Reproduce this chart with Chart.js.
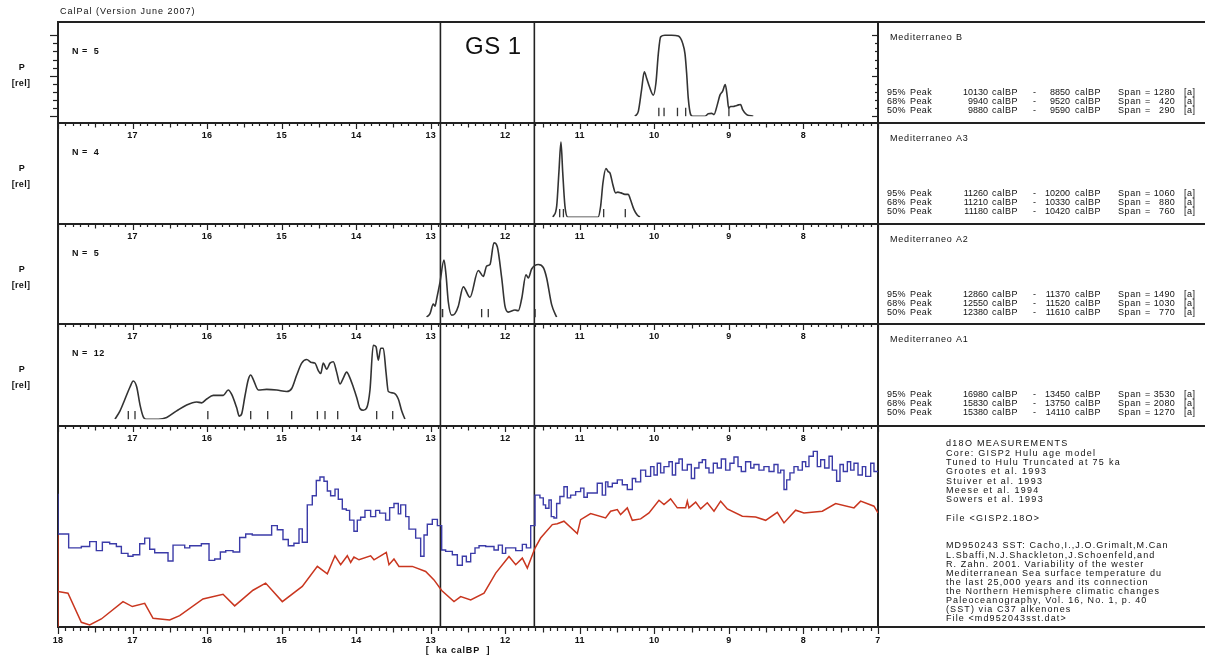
<!DOCTYPE html>
<html>
<head>
<meta charset="utf-8">
<script src="https://cdn.jsdelivr.net/npm/chart.js@4.4.1/dist/chart.umd.min.js"></script>
<style>
  body { margin: 0; background: #fff; width: 1205px; height: 659px; overflow: hidden; position: relative; }
  canvas { position: absolute; left: 0; }
</style>
</head>
<body>
<script>
// ---- data (ages in ka calBP) ----
const xTickLabels = [17, 16, 15, 14, 13, 12, 11, 10, 9, 8];
const xAxisLabels = [18, 17, 16, 15, 14, 13, 12, 11, 10, 9, 8, 7];
const gsBounds = [12.87, 11.61];
const d18oTicks = [-34, -36, -38, -40, -42, -44, -46];
const sstTicks = [23, 19, 15];
const sstMinorTicks = [21, 17, 13, 11];

// Mediterraneo B
const ageB = [10.26, 10.215, 10.171, 10.135, 10.104, 10.068, 10.014, 9.979, 9.947, 9.916, 9.858, 9.768, 9.679, 9.62, 9.589, 9.567, 9.545, 9.513, 9.487,
  9.321, 9.277, 9.232, 9.201, 9.156, 9.12, 9.084, 9.049, 9.022, 9.004, 8.977, 8.942, 8.906, 8.87, 8.843, 8.816, 8.762, 8.673];
const probB = [0, 0.06, 0.33, 0.55, 0.47, 0.37, 0.26, 0.41, 0.77, 0.98, 1.0, 1.0, 0.99, 0.9, 0.77, 0.53, 0.22, 0.02, 0,
  0, 0.03, 0.035, 0.02, 0.14, 0.26, 0.31, 0.39, 0.24, 0.1, 0.12, 0.12, 0.13, 0.14, 0.145, 0.08, 0.02, 0];
const datesB = [9.94, 9.87, 9.69, 9.58, 9.0];

// Mediterraneo A3
const ageA3 = [11.36, 11.31, 11.28, 11.253, 11.23, 11.2, 11.16, 10.756, 10.72, 10.69, 10.649, 10.62, 10.595, 10.555, 10.52, 10.49, 10.448, 10.394, 10.35, 10.327, 10.273, 10.23, 10.193];
const probA3 = [0, 0.15, 0.6, 0.99, 0.6, 0.15, 0, 0, 0.15, 0.45, 0.64, 0.6, 0.58, 0.42, 0.32, 0.33, 0.32, 0.3, 0.3, 0.25, 0.1, 0.03, 0];
const datesA3 = [11.27, 11.22, 10.68, 10.39];

// Mediterraneo A2
const ageA2 = [13.054, 13.01, 12.966, 12.943, 12.92, 12.876, 12.822, 12.795, 12.764, 12.719, 12.675, 12.63, 12.563, 12.474, 12.362, 12.295, 12.25,
  12.205, 12.152, 12.107, 12.048, 12.004, 11.959, 11.87, 11.825, 11.78, 11.722, 11.691, 11.646, 11.557, 11.49, 11.445, 11.378, 11.311];
const probA2 = [0, 0.047, 0.172, 0.145, 0.243, 0.458, 0.753, 0.56, 0.2, 0.027, 0.047, 0.145, 0.4, 0.262, 0.615, 0.537, 0.674,
  0.694, 0.98, 0.929, 0.517, 0.145, 0.067, 0.094, 0.086, 0.243, 0.557, 0.517, 0.635, 0.694, 0.655, 0.517, 0.165, 0];
const datesA2 = [12.867, 12.84, 12.317, 12.228, 11.6];

// Mediterraneo A1
const ageA1 = [17.235, 17.168, 17.101, 17.034, 16.99, 16.944, 16.9, 16.856, 16.82, 16.654, 16.542, 16.408, 16.274, 16.14, 16.073, 16.005,
  15.917, 15.783, 15.716, 15.67, 15.603, 15.568, 15.536, 15.492, 15.447, 15.415, 15.38, 15.313, 15.201, 15.066, 14.932, 14.865,
  14.798, 14.731, 14.664, 14.597, 14.553, 14.508, 14.476, 14.441, 14.396, 14.351, 14.307, 14.262, 14.217, 14.173, 14.128, 14.083,
  14.039, 13.993, 13.949, 13.905, 13.859, 13.815, 13.771, 13.734, 13.703, 13.671, 13.636, 13.6, 13.569, 13.502, 13.435, 13.39, 13.346];
const probA1 = [0, 0.11, 0.266, 0.423, 0.502, 0.423, 0.188, 0.031, 0, 0, 0.023, 0.11, 0.188, 0.227, 0.215, 0.266,
  0.313, 0.313, 0.384, 0.325, 0.149, 0.039, 0.07, 0.305, 0.521, 0.58, 0.521, 0.384, 0.392, 0.384, 0.364, 0.403,
  0.58, 0.737, 0.784, 0.745, 0.737, 0.639, 0.6, 0.737, 0.658, 0.737, 0.756, 0.619, 0.462, 0.54, 0.619, 0.54,
  0.423, 0.286, 0.141, 0.117, 0.149, 0.384, 0.972, 0.952, 0.776, 0.933, 0.933, 0.619, 0.364, 0.345, 0.266, 0.11, 0];
const datesA1 = [17.057, 16.967, 15.99, 15.415, 15.187, 14.865, 14.52, 14.418, 14.248, 13.725, 13.51];

const peaksB = [['95%', 10130, 8850, 1280], ['68%', 9940, 9520, 420], ['50%', 9880, 9590, 290]];
const peaksA3 = [['95%', 11260, 10200, 1060], ['68%', 11210, 10330, 880], ['50%', 11180, 10420, 760]];
const peaksA2 = [['95%', 12860, 11370, 1490], ['68%', 12550, 11520, 1030], ['50%', 12380, 11610, 770]];
const peaksA1 = [['95%', 16980, 13450, 3530], ['68%', 15830, 13750, 2080], ['50%', 15380, 14110, 1270]];

// GISP2 d18O (step start ages / values)
const d18oAge = [18.0, 18.0, 17.857, 17.687, 17.575, 17.486, 17.405, 17.307, 17.217, 17.15, 17.061, 16.994, 16.904, 16.837, 16.77, 16.703,
  16.524, 16.457, 16.3, 16.233, 16.077, 15.974, 15.898, 15.822, 15.75, 15.652, 15.563, 15.482,
  15.394, 15.134, 15.058, 14.982, 14.911, 14.835, 14.767, 14.723, 14.656, 14.589, 14.535, 14.486, 14.432, 14.387, 14.343, 14.284,
  14.24, 14.186, 14.132, 14.088, 14.03, 13.985, 13.94, 13.882, 13.806, 13.739, 13.685, 13.605, 13.551, 13.493, 13.435, 13.403,
  13.336, 13.292, 13.202, 13.135, 13.09, 13.046, 12.979, 12.911, 12.853, 12.8, 12.71, 12.643, 12.576, 12.522, 12.464, 12.406,
  12.352, 12.263, 12.151, 12.093, 12.039, 11.995, 11.86, 11.771, 11.717, 11.659, 11.601,
  11.535, 11.49, 11.459, 11.414, 11.383, 11.347, 11.311, 11.267, 11.213, 11.168, 11.123, 11.056, 10.989, 10.945, 10.9, 10.766,
  10.699, 10.654, 10.623, 10.564, 10.497, 10.43, 10.363, 10.296, 10.251, 10.184, 10.117, 10.05, 10.005, 9.961, 9.916, 9.871,
  9.804, 9.759, 9.715, 9.67, 9.625, 9.558, 9.504, 9.46, 9.402, 9.357, 9.312, 9.267, 9.209, 9.156, 9.102, 9.044, 8.986, 8.932,
  8.878, 8.834, 8.776, 8.708, 8.664, 8.597, 8.53, 8.462, 8.395, 8.342, 8.306, 8.261, 8.225, 8.181, 8.127, 8.073, 8.015, 7.97,
  7.926, 7.868, 7.814, 7.769, 7.716, 7.657, 7.613, 7.555, 7.51, 7.465, 7.411, 7.367, 7.322, 7.268, 7.21, 7.165, 7.098, 7.054, 7.0];
const d18oValue = [-36.4, -39.3, -40.3, -40.2, -39.85, -40.5, -39.9, -40.0, -40.2, -40.7, -40.9, -40.8, -40.0, -39.6, -40.4, -40.65,
  -41.25, -40.1, -40.3, -40.15, -40.0, -41.2, -41.1, -40.6, -40.5, -40.6, -39.55, -39.3,
  -39.37, -38.7, -39.0, -39.7, -40.15, -39.97, -38.93, -39.9, -37.2, -36.55, -35.45, -35.2, -35.5, -36.2, -36.55, -36.07,
  -36.8, -37.5, -37.6, -38.3, -39.1, -38.3, -38.1, -37.6, -38.05, -37.6, -37.8, -38.3, -37.4, -37.1, -37.85, -37.2,
  -38.05, -38.95, -39.6, -40.9, -39.37, -38.6, -38.25, -38.7, -40.45, -40.55, -40.8, -41.55, -40.9, -41.3, -40.7, -40.3,
  -40.15, -40.2, -40.45, -40.1, -40.7, -40.3, -40.5, -40.05, -40.3, -38.7, -36.5,
  -36.7, -37.2, -37.45, -36.85, -38.05, -38.15, -37.1, -36.6, -35.9, -36.7, -36.5, -36.25, -36.0, -36.65, -36.35, -35.65,
  -36.5, -35.55, -35.9, -35.65, -35.4, -35.75, -36.1, -35.3, -35.55, -34.7, -35.15, -34.45, -35.05, -34.2, -34.9, -34.45,
  -34.1, -35.05, -34.2, -33.9, -34.7, -34.3, -35.3, -34.55, -34.15, -33.95, -34.55, -34.9, -34.2, -34.55, -33.9, -34.7, -34.2, -33.75,
  -34.45, -34.8, -34.1, -34.55, -34.3, -34.7, -34.45, -34.8, -34.3, -34.9, -34.7, -36.1, -35.4, -34.9, -34.45, -34.7, -34.1, -34.45,
  -33.7, -33.35, -34.45, -33.95, -34.55, -33.7, -34.7, -35.5, -34.3, -34.8, -34.1, -34.7, -34.2, -35.05, -34.45, -35.15, -34.2, -34.8, -34.8];

// MD95-2043 SST (deg C)
const sstAge = [18.0, 18.0, 18.0, 17.866, 17.687, 17.575, 17.419, 17.128, 17.003, 16.837, 16.725, 16.502, 16.368, 16.055, 15.786, 15.63,
  15.384, 15.215, 14.991, 14.723, 14.521, 14.387, 14.284, 14.208, 14.119, 14.074, 14.03, 13.962, 13.806, 13.761, 13.672, 13.596,
  13.56, 13.493, 13.426, 13.247, 13.068, 12.956, 12.853, 12.688, 12.598, 12.464, 12.285, 12.128, 11.95, 11.86, 11.771, 11.704,
  11.601, 11.526, 11.369, 11.302, 11.213, 11.034, 10.989, 10.855, 10.654, 10.587, 10.497, 10.453, 10.363, 10.296, 10.184, 10.072,
  9.938, 9.871, 9.782, 9.692, 9.581, 9.558, 9.536, 9.446, 9.379, 9.29, 9.2, 9.111, 9.021, 8.82, 8.641, 8.507, 8.351, 8.261,
  8.105, 7.993, 7.747, 7.568, 7.322, 7.233, 7.054, 7.0];
const sstValue = [17.1, 10.0, 12.74, 12.61, 10.36, 10.16, 10.62, 11.96, 11.58, 11.83, 10.67, 10.54, 10.88, 12.17, 12.53, 11.63,
  12.84, 13.39, 11.96, 13.13, 14.68, 14.11, 15.5, 14.81, 15.5, 14.99, 15.4, 15.19, 15.5, 15.19, 15.5, 15.76,
  14.81, 15.25, 14.68, 14.68, 14.29, 13.64, 12.82, 11.96, 12.35, 12.09, 12.61, 14.16, 15.45, 14.81, 15.32, 14.55,
  16.1, 16.87, 17.91, 17.98, 18.17, 17.21, 18.29, 18.76, 18.42, 18.94, 19.07, 18.68, 19.2, 18.24, 18.35, 18.81,
  19.79, 19.46, 19.9, 19.2, 19.2, 19.72, 19.2, 19.64, 19.12, 19.59, 18.94, 19.72, 19.12, 18.55, 18.5, 18.24, 18.86, 18.04,
  19.02, 18.81, 18.94, 19.53, 19.2, 19.72, 19.33, 18.81];

const gispText = ['d18O MEASUREMENTS', 'Core: GISP2 Hulu age model', 'Tuned to Hulu Truncated at 75 ka',
  'Grootes et al. 1993', 'Stuiver et al. 1993', 'Meese et al. 1994', 'Sowers et al. 1993', '', 'File <GISP2.18O>'];
const sstText = ['MD950243 SST: Cacho,I.,J.O.Grimalt,M.Can', 'L.Sbaffi,N.J.Shackleton,J.Schoenfeld,and',
  'R. Zahn. 2001. Variability of the wester', 'Mediterranean Sea surface temperature du',
  'the last 25,000 years and its connection', 'the Northern Hemisphere climatic changes',
  'Paleoceanography, Vol. 16, No. 1, p. 40', '(SST) via C37 alkenones', 'File <md952043sst.dat>'];

// ---- layout ----
const W = 1205, X0 = 58, X1 = 878;
const PXP = 85; // pixels per unit P
const FONT = "'Liberation Sans', Arial, sans-serif";
const INK = '#222';
const BLUE = '#3b3ba8', RED = '#c9361f';

const pts = (xs, ys) => xs.map((v, k) => ({ x: v, y: ys[k] }));

function txt(ctx, s, x, y, size, opt = {}) {
  ctx.font = (opt.bold ? 'bold ' : '') + size + 'px ' + FONT;
  ctx.fillStyle = opt.color || '#111';
  ctx.textAlign = opt.align || 'left';
  ctx.textBaseline = 'middle';
  if ('letterSpacing' in ctx) ctx.letterSpacing = (opt.ls == null ? 0.6 : opt.ls) + 'px';
  ctx.fillText(s, x, y);
}
function seg(ctx, x1, y1, x2, y2, color, w) {
  ctx.beginPath();
  ctx.strokeStyle = color || INK;
  ctx.lineWidth = w || 1;
  ctx.moveTo(x1, y1); ctx.lineTo(x2, y2); ctx.stroke();
}

// ticks along an edge of the plot; dir = +1 down, -1 up
function xTicks(ctx, x, yEdge, dir) {
  for (let k = 70; k <= 180; k++) {
    const v = k / 10;
    const len = k % 10 === 0 ? 6 : (k % 5 === 0 ? 4.5 : 3);
    const px = Math.round(x.getPixelForValue(v)) + 0.5;
    seg(ctx, px, yEdge, px, yEdge + dir * len, INK, 1.2);
  }
}

function makePanel(cfg) {
  const c = document.createElement('canvas');
  c.width = W; c.height = cfg.canvasH;
  c.style.top = cfg.canvasTop + 'px';
  document.body.appendChild(c);
  const T = cfg.canvasTop;

  const deco = {
    id: 'deco',
    beforeDatasetsDraw(chart) {
      const ctx = chart.ctx;
      const x = chart.scales.x;
      ctx.save();
      ctx.translate(0, -T);
      const top = cfg.top, bot = cfg.bot;
      // frame
      seg(ctx, X0 - 1, top + 1, W, top + 1, INK, 2);
      seg(ctx, X0, top, X0, bot, INK, 2);
      seg(ctx, X1, top, X1, bot, INK, 2);
      if (cfg.drawTop) {
        xTicks(ctx, x, top + 1, 1);
        xTickLabels.forEach(v => txt(ctx, String(v), x.getPixelForValue(v), top + 14, 9, { bold: true, align: 'center', ls: 0.3 }));
      }
      gsBounds.forEach(v => {
        const px = x.getPixelForValue(v);
        seg(ctx, px, top, px, bot, INK, 1.6);
      });
      cfg.draw(ctx, chart);
      ctx.restore();
    }
  };

  return new Chart(c, {
    type: 'line',
    data: { datasets: cfg.datasets },
    options: {
      responsive: false,
      animation: false,
      events: [],
      layout: { padding: { left: X0, right: W - X1, top: cfg.top - T, bottom: T + cfg.canvasH - cfg.areaBot } },
      plugins: { legend: { display: false }, tooltip: { enabled: false } },
      elements: { point: { radius: 0 } },
      scales: Object.assign({
        x: { type: 'linear', reverse: true, min: 7, max: 18, display: false }
      }, cfg.scales)
    },
    plugins: [deco]
  });
}

// ---- probability panels ----
const panels = [
  { name: 'Mediterraneo B', n: 5, age: ageB, prob: probB, dates: datesB, peaks: peaksB, top: 21, bot: 122, canvasTop: 0 },
  { name: 'Mediterraneo A3', n: 4, age: ageA3, prob: probA3, dates: datesA3, peaks: peaksA3, top: 122, bot: 223, canvasTop: 122 },
  { name: 'Mediterraneo A2', n: 5, age: ageA2, prob: probA2, dates: datesA2, peaks: peaksA2, top: 223, bot: 323, canvasTop: 223 },
  { name: 'Mediterraneo A1', n: 12, age: ageA1, prob: probA1, dates: datesA1, peaks: peaksA1, top: 323, bot: 425, canvasTop: 323 }
];

panels.forEach((p, i) => {
  const areaBot = p.bot - 1;
  const yMax = (areaBot - p.top) / PXP;
  makePanel({
    top: p.top, bot: p.bot, areaBot: areaBot,
    canvasTop: p.canvasTop, canvasH: p.bot - p.canvasTop,
    drawTop: i > 0,
    scales: { y: { type: 'linear', min: 0, max: yMax, display: false } },
    datasets: [
      { data: pts(p.age, p.prob), borderColor: '#333', borderWidth: 1.6, cubicInterpolationMode: 'monotone', fill: false },
      { data: p.dates.map(v => ({ x: v, y: 0.05 })), showLine: false, pointStyle: 'line', rotation: 90,
        pointRadius: 4.5, pointBorderColor: '#333', pointBorderWidth: 1.3 }
    ],
    draw(ctx, chart) {
      const y = chart.scales.y;
      for (let k = 0; k <= 10; k++) {
        const py = Math.round(y.getPixelForValue(k / 10)) + 0.5;
        const len = k % 5 === 0 ? 8 : 5;
        seg(ctx, X0 - len, py, X0, py, INK, 1.2);
        seg(ctx, X1 - len + 2, py, X1, py, INK, 1.2);
      }
      txt(ctx, 'P', 22, p.top + 47, 9, { bold: true, align: 'center' });
      txt(ctx, '[rel]', 21, p.top + 63, 9, { bold: true, align: 'center', ls: 0.3 });
      txt(ctx, 'N =  ' + p.n, 72, p.top + 31, 9, { bold: true, ls: 0.5 });
      txt(ctx, p.name, 890, p.top + 17, 9, { ls: 0.8 });
      p.peaks.forEach((r, k) => {
        const ry = p.top + 72 + k * 9;
        txt(ctx, r[0], 887, ry, 9, { ls: 0.2 });
        txt(ctx, 'Peak', 910, ry, 9, { ls: 0.4 });
        txt(ctx, String(r[1]), 988, ry, 9, { align: 'right', ls: 0 });
        txt(ctx, 'calBP', 992, ry, 9, { ls: 0.5 });
        txt(ctx, '-', 1033, ry, 9);
        txt(ctx, String(r[2]), 1070, ry, 9, { align: 'right', ls: 0 });
        txt(ctx, 'calBP', 1075, ry, 9, { ls: 0.5 });
        txt(ctx, 'Span', 1118, ry, 9, { ls: 0.6 });
        txt(ctx, '=', 1145, ry, 9);
        txt(ctx, String(r[3]), 1175, ry, 9, { align: 'right', ls: 0.3 });
        txt(ctx, '[a]', 1184, ry, 9, { ls: 0.5 });
      });
      if (i === 0) {
        txt(ctx, 'CalPal (Version June 2007)', 60, 12, 9, { ls: 1 });
        txt(ctx, 'GS 1', 465, 47, 24, { ls: 0.5 });
      }
    }
  });
});

// ---- measurement panel ----
makePanel({
  top: 425, bot: 627, areaBot: 627, canvasTop: 425, canvasH: 659 - 425,
  drawTop: true,
  scales: {
    yB: { type: 'linear', min: -46, max: -31.45, display: false },
    yR: { type: 'linear', min: 10, max: 25.6, display: false }
  },
  datasets: [
    { data: pts(sstAge, sstValue), yAxisID: 'yR', borderColor: RED, borderWidth: 1.5, tension: 0 },
    { data: pts(d18oAge, d18oValue), yAxisID: 'yB', borderColor: BLUE, borderWidth: 1.4, stepped: true }
  ],
  draw(ctx, chart) {
    const x = chart.scales.x, yB = chart.scales.yB, yR = chart.scales.yR;
    seg(ctx, X0 - 1, 627, W, 627, INK, 2);
    xTicks(ctx, x, 628, 1);
    xAxisLabels.forEach(v => txt(ctx, String(v), x.getPixelForValue(v), 641, 9, { bold: true, align: 'center', ls: 0.3 }));
    txt(ctx, '[  ka calBP  ]', 458, 651, 9, { bold: true, align: 'center', ls: 0.8 });
    d18oTicks.forEach(v => {
      const py = Math.round(yB.getPixelForValue(v)) + 0.5;
      seg(ctx, X0 - 8, py, X0, py, '#5050b0', 1.5);
      txt(ctx, String(v), 34, py, 9, { color: '#5a5ab0', align: 'right', ls: 0.8 });
    });
    sstTicks.concat(sstMinorTicks).forEach(v => {
      const py = Math.round(yR.getPixelForValue(v)) + 0.5;
      seg(ctx, X1, py, X1 + (sstTicks.includes(v) ? 7 : 5), py, '#d04a35', 1.5);
    });
    sstTicks.forEach(v => txt(ctx, String(v), 885, yR.getPixelForValue(v), 9, { color: '#d04a35', ls: 0.6 }));
    let ty = 444;
    gispText.forEach(s => { if (s) txt(ctx, s, 946, ty, 9, { ls: 1.3 }); ty += 9.3; });
    ty = 546;
    sstText.forEach(s => { txt(ctx, s, 946, ty, 9, { ls: 1.1 }); ty += 9.1; });
  }
});
</script>
</body>
</html>
